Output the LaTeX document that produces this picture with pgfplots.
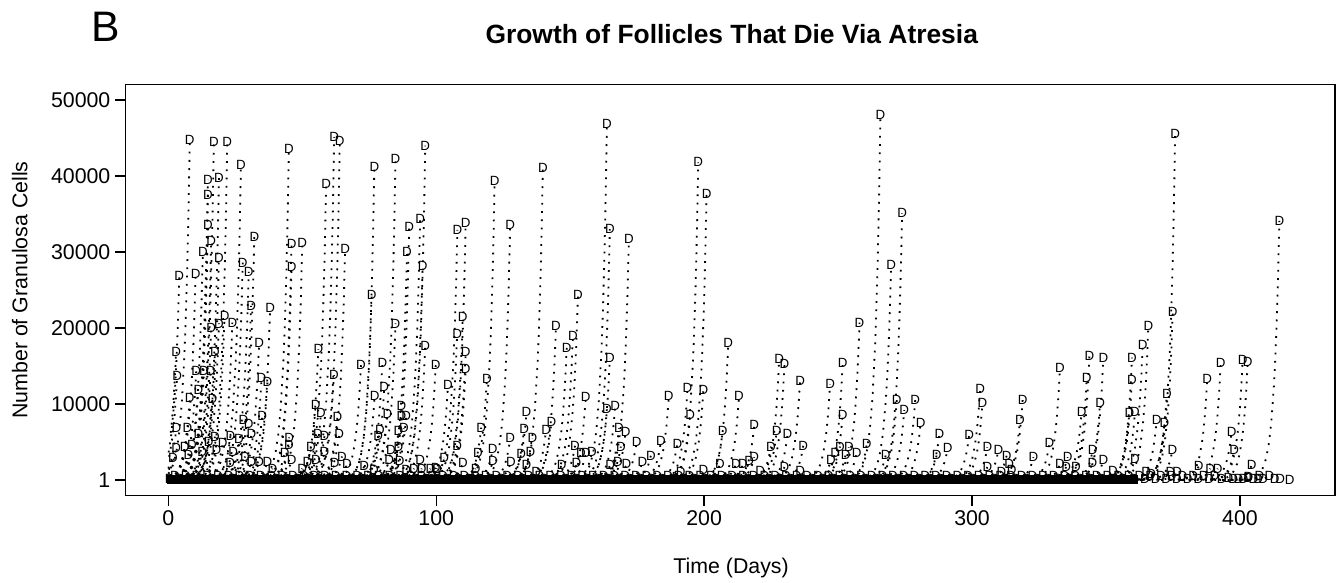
\documentclass[border=0pt]{standalone}
\usepackage{fontspec}
\setmainfont{Liberation Sans}
\usepackage{pgfplots}
\usepackage{pgfplotstable}
\pgfplotsset{compat=1.18}

% growth shape of one follicle before its death (time relative to death, fraction of final size)
\pgfplotstableread{
t f
-14 0.000912
-12 0.00248
-10 0.00674
-8 0.0183
-7 0.0302
-6 0.0498
-5 0.0821
-4 0.1353
-3 0.2231
-2 0.3679
-1.5 0.4724
-1 0.6065
-0.5 0.7788
0 1
}\tmpl

% day of death and number of granulosa cells at death
\pgfplotstableread{
d p
8.0 44700
17.0 44500
22.0 44500
27.1 41400
45.0 43600
61.9 45100
64.0 44600
76.9 41200
84.8 42300
95.9 44000
121.8 39400
139.8 41100
163.7 46800
197.8 41800
200.9 37600
14.8 39500
18.9 39800
14.8 37500
14.8 33600
16.0 31400
12.9 30000
18.9 29200
4.1 26800
10.2 27100
32.1 32000
27.8 28600
30.0 27400
30.9 22900
38.0 22600
46.0 31100
50.0 31200
46.0 28000
58.9 38900
66.0 30400
89.9 33300
94.0 34400
89.1 30000
94.9 28200
107.9 32900
111.0 33800
127.6 33600
152.9 24300
164.8 33000
171.9 31700
75.9 24300
84.8 20600
95.9 17700
109.9 21400
107.8 19200
111.0 16800
111.0 14600
144.7 20300
151.0 19000
148.7 17400
164.8 16000
209.0 18000
33.9 18000
21.0 21600
23.9 20700
18.9 20600
16.0 20000
2.9 16900
71.9 15100
79.9 15400
99.8 15100
56.0 17200
118.9 13300
61.8 13800
3.3 13700
17.4 16900
34.8 13400
37.0 12900
10.4 14300
13.3 14300
15.8 14300
104.4 12500
80.6 12200
193.8 12100
186.8 11000
199.7 11800
155.8 10900
166.8 9800
163.7 9300
77.0 11000
87.0 9700
8.0 10800
11.2 11900
16.5 10700
55.0 9900
35.0 8400
57.0 8800
63.1 8300
133.7 8900
194.8 8500
143.0 7700
28.0 7900
30.0 7400
31.0 6100
116.8 6900
206.9 6500
168.2 6800
170.7 6300
132.8 6700
141.0 6600
135.9 5500
127.6 5500
183.9 5200
190.0 4800
174.8 5000
168.9 4400
107.8 4500
121.1 4100
63.8 6100
87.9 6800
85.9 6400
78.3 5800
58.3 5800
55.8 6100
53.2 4400
45.1 5600
45.0 4600
43.4 3500
3.0 6800
7.1 6800
2.9 4200
6.1 4300
8.8 4600
11.2 6100
23.2 5800
26.4 5400
20.3 4900
17.4 5700
15.1 5000
12.6 3700
24.2 3700
18.0 3900
1.7 2900
7.5 3300
158.1 3700
151.8 4500
154.0 3600
155.9 3600
180.1 3200
177.0 2400
191.2 1100
205.9 2100
199.7 1300
211.9 2100
127.9 2400
133.7 2000
135.2 3700
131.7 3400
146.8 2000
152.3 2200
164.9 2000
167.8 2400
171.0 2100
137.3 1100
115.6 3500
110.0 2300
121.2 2500
114.7 1500
103.0 2900
99.8 1600
94.0 2600
91.7 1500
86.4 2500
83.1 3900
82.4 2600
85.9 4400
79.0 6600
81.8 8700
87.0 8400
88.8 8400
64.8 3100
66.7 2100
62.1 2200
58.3 3700
55.1 2700
51.9 2400
50.0 1500
46.0 2600
38.9 1500
37.0 2400
33.9 2400
31.0 2400
28.6 3100
23.1 2200
73.1 1800
76.7 1300
88.8 1300
94.6 1500
97.8 1500
100.4 1500
213.0 11000
218.7 7200
216.8 2500
218.7 3000
214.5 2100
220.9 1200
228.0 15900
230.0 15300
235.8 13100
227.1 6500
224.9 4400
231.1 6000
237.0 4500
230.0 1700
235.8 1200
247.0 12600
251.7 15400
251.7 8500
258.0 20700
265.8 48000
269.8 28300
273.9 35100
271.9 10600
274.7 9200
278.8 10600
280.8 7500
260.7 4700
250.7 4400
254.0 4300
252.8 3300
256.9 3500
248.9 3600
247.3 2600
267.8 3300
287.8 6000
290.9 4200
286.8 3300
298.9 5900
303.0 12000
303.9 10200
305.7 4300
305.7 1700
309.8 3900
312.9 3200
313.9 2100
314.8 1300
311.0 1100
318.9 10600
317.9 7900
322.9 3000
332.8 14700
328.9 4900
332.8 2100
335.7 3000
335.1 1700
338.8 1700
343.8 16300
342.8 13400
340.9 9000
345.0 3900
344.9 2200
352.6 1200
349.0 16000
347.8 10200
349.0 2600
375.8 45500
374.9 22100
414.7 34100
365.8 20300
363.7 17800
359.7 16100
359.7 13200
358.7 8800
360.8 8900
372.7 11300
368.9 7900
371.8 7500
374.8 4000
360.8 2800
387.8 13300
392.8 15400
401.0 15800
402.9 15600
396.9 6300
397.8 3900
384.6 1800
388.9 1500
391.7 1500
404.4 2000
365.0 1100
366.9 800
376.6 1100
374.0 1100
403.2 400
407.3 600
411.0 600
}\deaths

\pgfplotsset{
  fol/.style={black, line width=1.35pt, dash pattern=on 1.35pt off 4.85pt, restrict x to domain=0:450},
  dmark/.style={only marks, black, mark=text, text mark={\fontsize{10}{11}\selectfont D}},
}

\begin{document}
\begin{tikzpicture}
\useasboundingbox (-94.3pt,-65.1pt) rectangle ++(1002.75pt,436.5pt);
\begin{axis}[
  scale only axis, width=907pt, height=307.8pt,
  xmin=-15.9, xmax=435.5, ymin=-2000, ymax=52000,
  xtick={0,100,200,300,400}, xticklabels={0,100,200,300,400},
  ytick={1,10000,20000,30000,40000,50000},
  yticklabels={1,10000,20000,30000,40000,50000},
  scaled ticks=false,
  tick align=outside, major tick length=8pt,
  xtick pos=bottom, ytick pos=left,
  tick label style={font=\fontsize{16}{19}\selectfont, black},
  axis line style={line width=1pt},
  major tick style={line width=1pt, black},
]
\pgfplotstablegetrowsof{\deaths}
\pgfmathtruncatemacro\lastrow{\pgfplotsretval-1}
\pgfplotsforeachungrouped \i in {0,...,\lastrow}{%
  \pgfplotstablegetelem{\i}{d}\of\deaths \let\dd\pgfplotsretval
  \pgfplotstablegetelem{\i}{p}\of\deaths \let\pp\pgfplotsretval
  \edef\temp{\noexpand\addplot[fol] table[x expr=\noexpand\thisrow{t}+\dd, y expr=\noexpand\thisrow{f}*\pp] {\noexpand\tmpl};}%
  \temp
}
% dense row of follicles dying at about 1 cell
\addplot[black, line width=6.5pt] coordinates {(-0.4,25) (362,25)};
\addplot[dmark] coordinates {
(0.5,150)(2.5,500)(4.5,150)(6.5,500)(8.5,150)(10.5,500)(12.5,150)(14.5,500)(16.5,150)(18.5,500)
(20.5,150)(22.5,500)(24.5,150)(26.5,500)(28.5,150)(30.5,500)(32.5,150)(34.5,500)(36.5,150)(38.5,500)
(40.5,150)(42.5,500)(44.5,150)(46.5,500)(48.5,150)(50.5,500)(52.5,150)(54.5,500)(56.5,150)(58.5,500)
(60.5,150)(62.5,500)(64.5,150)(66.5,500)(68.5,150)(70.5,500)(72.5,150)(74.5,500)(76.5,150)(78.5,500)
(80.5,150)(82.5,500)(84.5,150)(86.5,500)(88.5,150)(90.5,500)(92.5,150)(94.5,500)(96.5,150)(98.5,500)
(100.5,150)(102.5,500)(104.5,150)(106.5,500)(108.5,150)(110.5,500)(112.5,150)(114.5,500)(116.5,150)(118.5,500)
(120.5,150)(122.5,500)(124.5,150)(126.5,500)(128.5,150)(130.5,500)(132.5,150)(134.5,500)(136.5,150)(138.5,500)
(140.5,150)(142.5,500)(144.5,150)(146.5,500)(148.5,150)(150.5,500)(152.5,150)(154.5,500)(156.5,150)(158.5,500)
(160.5,150)(162.5,500)(164.5,150)(166.5,500)(168.5,150)(170.5,500)(172.5,150)(174.5,500)(176.5,150)(178.5,500)
(180.5,150)(182.5,500)(184.5,150)(186.5,500)(188.5,150)(190.5,500)(192.5,150)(194.5,500)(196.5,150)(198.5,500)
(200.5,150)(202.5,500)(204.5,150)(206.5,500)(208.5,150)(210.5,500)(212.5,150)(214.5,500)(216.5,150)(218.5,500)
(220.5,150)(222.5,500)(224.5,150)(226.5,500)(228.5,150)(230.5,500)(232.5,150)(234.5,500)(236.5,150)(238.5,500)
(240.5,150)(242.5,500)(244.5,150)(246.5,500)(248.5,150)(250.5,500)(252.5,150)(254.5,500)(256.5,150)(258.5,500)
(260.5,150)(262.5,500)(264.5,150)(266.5,500)(268.5,150)(270.5,500)(272.5,150)(274.5,500)(276.5,150)(278.5,500)
(280.5,150)(282.5,500)(284.5,150)(286.5,500)(288.5,150)(290.5,500)(292.5,150)(294.5,500)(296.5,150)(298.5,500)
(300.5,150)(302.5,500)(304.5,150)(306.5,500)(308.5,150)(310.5,500)(312.5,150)(314.5,500)(316.5,150)(318.5,500)
(320.5,150)(322.5,500)(324.5,150)(326.5,500)(328.5,150)(330.5,500)(332.5,150)(334.5,500)(336.5,150)(338.5,500)
(340.5,150)(342.5,500)(344.5,150)(346.5,500)(348.5,150)(350.5,500)(352.5,150)(354.5,500)(356.5,150)(358.5,500)
(360.5,150)(362.5,500)(364.5,150)(366.5,500)(368.5,150)(370.5,500)(372.5,150)(374.5,500)(376.5,150)(378.5,500)
(380.5,150)(382.5,500)(384.5,150)(386.5,500)(388.5,150)(390.5,500)
(393.2,100)(395.7,300)(397.5,100)(399.4,200)(401.3,100)(403.1,300)(405,100)(406.8,200)(408.7,100)(413,100)(415,100)(418.6,50)
};
\addplot[dmark] table[x=d, y=p] {\deaths};
\end{axis}
\node[anchor=base, font=\fontsize{19.8}{24}\selectfont\bfseries] at (454.5pt,338.6pt) {Growth of Follicles That Die Via Atresia};
\node[anchor=base west, inner sep=0pt, font=\fontsize{32}{38}\selectfont] at (-25.9pt,339.9pt) {B};
\node[rotate=90, font=\fontsize{16}{19}\selectfont] at (-79.5pt,153.9pt) {Number of Granulosa Cells};
\node[font=\fontsize{16}{19}\selectfont] at (454pt,-54.8pt) {Time (Days)};
\end{tikzpicture}
\end{document}
